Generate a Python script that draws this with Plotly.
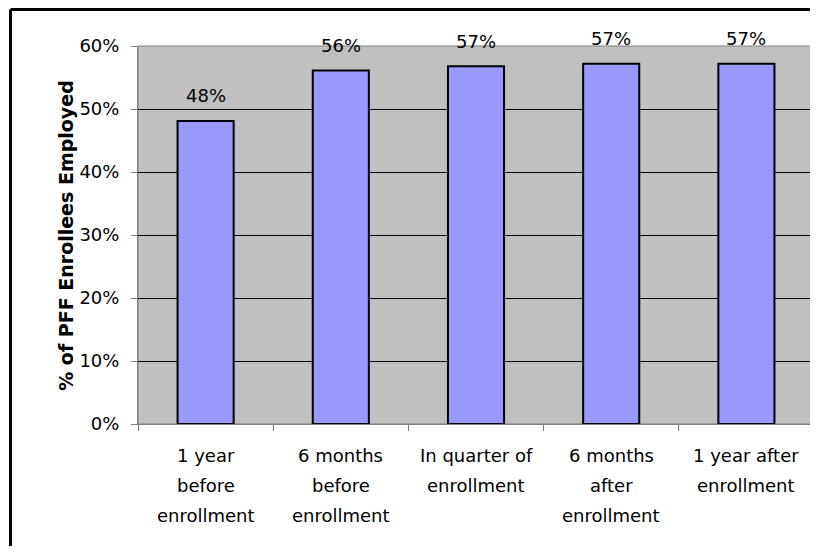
import plotly.graph_objects as go

categories = ["1 year before enrollment", "6 months before enrollment",
              "In quarter of enrollment", "6 months after enrollment",
              "1 year after enrollment"]
label_lines = [["1 year", "before", "enrollment"],
               ["6 months", "before", "enrollment"],
               ["In quarter of", "enrollment"],
               ["6 months", "after", "enrollment"],
               ["1 year after", "enrollment"]]
values = [48.1, 56.1, 56.8, 57.2, 57.2]
value_labels = ["48%", "56%", "57%", "57%", "57%"]
y_ticks = [0, 10, 20, 30, 40, 50, 60]
y_ticktext = ["0%", "10%", "20%", "30%", "40%", "50%", "60%"]

FONT = "DejaVu Sans, sans-serif"

fig = go.Figure()
fig.add_trace(go.Bar(
    x=categories, y=values,
    marker=dict(color="#9999FF", line=dict(color="black", width=2)),
    hoverinfo="skip",
))

annotations = []
for c, v, t in zip(categories, values, value_labels):
    annotations.append(dict(x=c, y=v, xref="x", yref="y", text=t, showarrow=False,
                            yshift=25, font=dict(size=18, color="black", family=FONT)))
for c, lines in zip(categories, label_lines):
    for i, ln in enumerate(lines):
        annotations.append(dict(x=c, y=0, xref="x", yref="y", text=ln, showarrow=False,
                                yshift=-31 - 30 * i,
                                font=dict(size=18, color="black", family=FONT)))
annotations.append(dict(x=-0.126, y=0.5, xref="paper", yref="paper",
                        text="<b>% of PFF Enrollees Employed</b>", textangle=-90,
                        showarrow=False, font=dict(size=19, color="black", family=FONT)))

fig.update_layout(
    width=810, height=538,
    margin=dict(l=130, r=4, t=38, b=122),
    paper_bgcolor="white",
    plot_bgcolor="#C0C0C0",
    bargap=0.585,
    showlegend=False,
    font=dict(family=FONT, size=18, color="black"),
    annotations=annotations,
    shapes=[
        dict(type="line", xref="paper", yref="paper", x0=-0.1886, x1=-0.1886, y0=-0.5, y1=1.0966,
             line=dict(color="black", width=3), layer="above"),
        dict(type="line", xref="paper", yref="paper", x0=-0.1886, x1=1.05, y0=1.0966, y1=1.0966,
             line=dict(color="black", width=3), layer="above"),
        dict(type="rect", xref="paper", yref="paper", x0=0, x1=1, y0=0, y1=1,
             line=dict(color="#808080", width=1), fillcolor="rgba(0,0,0,0)", layer="below"),
    ],
    xaxis=dict(showticklabels=False, ticks="outside", tickson="boundaries", ticklen=6,
               tickcolor="#808080", showgrid=False, showline=True, linecolor="#808080",
               linewidth=1, zeroline=False),
    yaxis=dict(range=[0, 60], tickvals=y_ticks, ticktext=y_ticktext, ticks="outside",
               ticklen=6, tickcolor="#808080", showline=True, linecolor="#808080",
               linewidth=1, showgrid=True, gridcolor="black", gridwidth=1, zeroline=False,
               ticklabelstandoff=8, tickfont=dict(size=18, family=FONT)),
)

fig.write_html("out.html")
